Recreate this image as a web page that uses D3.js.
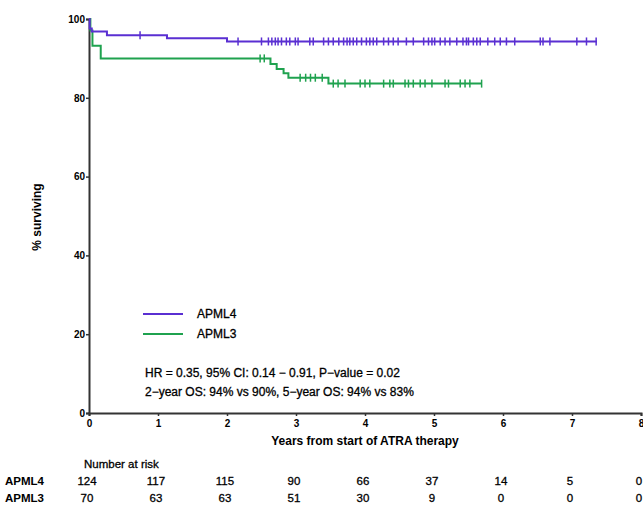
<!DOCTYPE html>
<html>
<head>
<meta charset="utf-8">
<script src="https://cdn.jsdelivr.net/npm/d3@7"></script>
<style>
  body { margin: 0; background: #fff; }
  text { font-family: "Liberation Sans", Arial, sans-serif; fill: #000; stroke: #000; stroke-width: 0.3px; }
  .tick text { font-size: 10px; font-weight: bold; stroke-width: 0; }
</style>
</head>
<body>
<div class="visualization"></div>
<script>
const canvaswidth = 643;
const canvasheight = 507;

// Kaplan-Meier steps (years, % surviving)
const apml4Times = [0, 0.01, 0.04, 0.26, 1.13, 2.0];
const apml4Surv = [100, 97.6, 96.8, 95.9, 95.1, 94.3];
const apml4End = 7.36;
const apml4Censor = [0.74, 2.16, 2.50, 2.60, 2.65, 2.70, 2.74, 2.79, 2.86, 2.91, 2.99, 3.03,
  3.20, 3.25, 3.40, 3.47, 3.54, 3.62, 3.69, 3.74, 3.78, 3.83, 3.88, 3.95, 4.02, 4.07,
  4.12, 4.17, 4.27, 4.34, 4.41, 4.48, 4.60, 4.70, 4.85, 4.92, 4.97, 5.01, 5.09, 5.16,
  5.23, 5.33, 5.42, 5.47, 5.50, 5.57, 5.62, 5.67, 5.78, 5.88, 5.96, 6.05, 6.17,
  6.54, 6.58, 6.68, 7.07, 7.21, 7.35];

const apml3Times = [0, 0.02, 0.05, 0.17, 2.63, 2.72, 2.82, 2.89, 3.47];
const apml3Surv = [100, 97.1, 93.2, 90.0, 88.6, 87.3, 86.2, 85.1, 83.6];
const apml3End = 5.69;
const apml3Censor = [2.48, 2.54, 3.06, 3.14, 3.21, 3.28, 3.38, 3.54, 3.61, 3.71, 3.93,
  4.00, 4.07, 4.27, 4.36, 4.41, 4.58, 4.63, 4.70, 4.80, 4.87, 4.97, 5.16, 5.21, 5.38,
  5.45, 5.52, 5.69];

const xTicks = [0, 1, 2, 3, 4, 5, 6, 7, 8];
const yTicks = [0, 20, 40, 60, 80, 100];
const apml4Risk = [124, 117, 115, 90, 66, 37, 14, 5, 0];
const apml3Risk = [70, 63, 63, 51, 30, 9, 0, 0, 0];

const purple = "#5a2fd2";
const green = "#1fa24f";

var svgCanvas = d3.select(".visualization").
append("svg").
attr("width", canvaswidth).
attr("height", canvasheight);

var xscale = d3.scaleLinear().domain([0, 8]).range([89, 641]);
var yscale = d3.scaleLinear().domain([0, 100]).range([413, 19]);

var xaxis = d3.axisBottom(xscale).tickValues(xTicks).tickSize(3).tickPadding(4);
var yaxis = d3.axisLeft(yscale).tickValues(yTicks).tickSize(3).tickPadding(1);

svgCanvas.append("g").
attr("transform", "translate(0,413)").
call(xaxis).
call(g => g.select(".domain").attr("stroke", "#333").attr("stroke-width", 2)).
call(g => g.selectAll(".tick line").attr("stroke", "#333").attr("stroke-width", 1.5));

svgCanvas.append("g").
attr("transform", "translate(89,0)").
call(yaxis).
call(g => g.select(".domain").attr("stroke", "#333").attr("stroke-width", 2)).
call(g => g.selectAll(".tick line").attr("stroke", "#333").attr("stroke-width", 1.5));

// axis titles
svgCanvas.append("text").
attr("transform", "rotate(-90)").
attr("x", -217).
attr("y", 41).
attr("text-anchor", "middle").
style("font-size", "12px").
style("font-weight", "bold").
style("stroke-width", 0).
text("% surviving");

svgCanvas.append("text").
attr("x", 365).
attr("y", 445).
attr("text-anchor", "middle").
style("font-size", "12px").
style("font-weight", "bold").
style("stroke-width", 0).
text("Years from start of ATRA therapy");

// survival curves
var line = d3.line().
x(d => xscale(d[0])).
y(d => yscale(d[1])).
curve(d3.curveStepAfter);

function survAt(times, surv, t) {
  var i = d3.bisectRight(times, t) - 1;
  return surv[Math.max(i, 0)];
}

function drawCurve(times, surv, end, censor, color) {
  var pts = times.map((t, i) => [t, surv[i]]);
  pts.push([end, surv[surv.length - 1]]);

  svgCanvas.append("path").
  datum(pts).
  attr("d", line).
  attr("fill", "none").
  attr("stroke", color).
  attr("stroke-width", 2);

  svgCanvas.append("g").
  selectAll("line").
  data(censor).
  enter().
  append("line").
  attr("x1", d => xscale(d)).
  attr("x2", d => xscale(d)).
  attr("y1", d => yscale(survAt(times, surv, d)) - 4).
  attr("y2", d => yscale(survAt(times, surv, d)) + 4).
  attr("stroke", color).
  attr("stroke-width", 1.5);
}

drawCurve(apml3Times, apml3Surv, apml3End, apml3Censor, green);
drawCurve(apml4Times, apml4Surv, apml4End, apml4Censor, purple);

// legend
var legend = [["APML4", purple], ["APML3", green]];
legend.forEach((d, i) => {
  svgCanvas.append("line").
  attr("x1", 143).
  attr("x2", 183).
  attr("y1", 314 + i * 20).
  attr("y2", 314 + i * 20).
  attr("stroke", d[1]).
  attr("stroke-width", 2);
  svgCanvas.append("text").
  attr("x", 197).
  attr("y", 318 + i * 20).
  style("font-size", "12px").
  text(d[0]);
});

svgCanvas.append("text").
attr("x", 145).
attr("y", 377).
style("font-size", "12px").
text("HR = 0.35, 95% CI: 0.14 \u2212 0.91, P\u2212value = 0.02");

svgCanvas.append("text").
attr("x", 145).
attr("y", 396).
style("font-size", "12px").
text("2\u2212year OS: 94% vs 90%, 5\u2212year OS: 94% vs 83%");

// number at risk table
svgCanvas.append("text").
attr("x", 84).
attr("y", 468).
style("font-size", "11.5px").
text("Number at risk");

var rows = [["APML4", apml4Risk, 485], ["APML3", apml3Risk, 502]];
rows.forEach(r => {
  svgCanvas.append("text").
  attr("x", 5).
  attr("y", r[2]).
  style("font-size", "11.5px").
  style("font-weight", "bold").
  style("stroke-width", 0).
  text(r[0]);

  svgCanvas.append("g").
  selectAll("text").
  data(r[1]).
  enter().
  append("text").
  attr("x", (d, i) => xscale(xTicks[i]) - 2).
  attr("y", r[2]).
  attr("text-anchor", "middle").
  style("font-size", "11.5px").
  text(d => d);
});
</script>
</body>
</html>
